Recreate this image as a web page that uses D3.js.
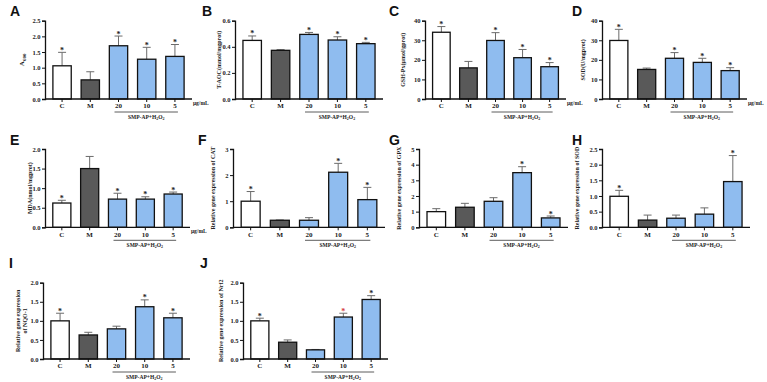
<!DOCTYPE html>
<html>
<head>
<meta charset="utf-8">
<script src="https://cdn.jsdelivr.net/npm/d3@7"></script>
<style>
  body { margin: 0; background: #fff; }
  svg { display: block; }
</style>
</head>
<body>
<svg id="fig" width="767" height="382"></svg>
<script>
// Categories shared by every panel.
const categories = ["C", "M", "20", "10", "5"];

// Bar means, upper error ends and significance marks (1 = black *, 2 = red *).
const meanA = [1.06, 0.61, 1.70, 1.27, 1.36];
const errA = [1.49, 0.87, 2.01, 1.65, 1.74];
const starA = [1, 0, 1, 1, 1];

const meanB = [0.449, 0.373, 0.495, 0.452, 0.424];
const errB = [0.483, 0.378, 0.510, 0.477, 0.434];
const starB = [1, 0, 1, 1, 1];

const meanC = [34.1, 15.9, 29.9, 21.1, 16.5];
const errC = [37.0, 19.2, 33.9, 25.3, 18.6];
const starC = [1, 0, 1, 1, 1];

const meanD = [29.9, 15.1, 20.8, 18.7, 14.5];
const errD = [35.6, 15.8, 23.7, 20.8, 16.0];
const starD = [1, 0, 1, 1, 1];

const meanE = [0.62, 1.50, 0.72, 0.72, 0.85];
const errE = [0.69, 1.81, 0.87, 0.78, 0.90];
const starE = [1, 0, 1, 1, 1];

const meanF = [1.00, 0.27, 0.27, 2.11, 1.06];
const errF = [1.37, 0.28, 0.37, 2.45, 1.53];
const starF = [1, 0, 0, 1, 1];

const meanG = [1.00, 1.28, 1.66, 3.49, 0.60];
const errG = [1.19, 1.53, 1.89, 3.87, 0.72];
const starG = [0, 0, 0, 1, 1];

const meanH = [0.99, 0.23, 0.29, 0.42, 1.46];
const errH = [1.18, 0.39, 0.39, 0.62, 2.29];
const starH = [1, 0, 0, 0, 1];

const meanI = [1.00, 0.63, 0.79, 1.37, 1.08];
const errI = [1.20, 0.70, 0.86, 1.55, 1.20];
const starI = [1, 0, 0, 1, 1];

const meanJ = [1.00, 0.44, 0.24, 1.10, 1.56];
const errJ = [1.07, 0.50, 0.25, 1.20, 1.66];
const starJ = [1, 0, 0, 2, 1];

// Axis ticks per panel.
const ticksA = [0, 0.5, 1.0, 1.5, 2.0, 2.5];
const ticksB = [0, 0.2, 0.4, 0.6];
const ticksC = [0, 10, 20, 30, 40];
const ticksD = [0, 10, 20, 30, 40];
const ticksE = [0, 0.5, 1.0, 1.5, 2.0];
const ticksF = [0, 1, 2, 3];
const ticksG = [0, 1, 2, 3, 4, 5];
const ticksH = [0, 0.5, 1.0, 1.5, 2.0, 2.5];
const ticksI = [0, 0.5, 1.0, 1.5, 2.0];
const ticksJ = [0, 0.5, 1.0, 1.5, 2.0];

// Panel layout (pixel boxes) kept apart from the data.
const rows = [
    { top: 20.7, bottom: 99 },
    { top: 149, bottom: 227.3 },
    { top: 282.7, bottom: 359 },
];

const panels = [
    { id: "A", row: 0, x0: 45, x1: 192, lx: 10, labelDx: 21, mean: meanA, err: errA, star: starA, ticks: ticksA, fmt: ".1f", units: true, ylabel: ["A600"] },
    { id: "B", row: 0, x0: 235, x1: 383, lx: 202, labelDx: 14, mean: meanB, err: errB, star: starB, ticks: ticksB, fmt: ".1f", units: false, ylabel: ["T-AOC(mmol/mgprot)"] },
    { id: "C", row: 0, x0: 425, x1: 566, lx: 389, labelDx: 20, mean: meanC, err: errC, star: starC, ticks: ticksC, fmt: "d", units: true, ylabel: ["GSH-Px(μmol/gprot)"] },
    { id: "D", row: 0, x0: 602, x1: 747, lx: 572, labelDx: 17, mean: meanD, err: errD, star: starD, ticks: ticksD, fmt: "d", units: true, ylabel: ["SOD(U/mgprot)"] },
    { id: "E", row: 1, x0: 45, x1: 190, lx: 10, labelDx: 13, mean: meanE, err: errE, star: starE, ticks: ticksE, fmt: ".1f", units: true, ylabel: ["MDA(nmol/mgprot)"] },
    { id: "F", row: 1, x0: 233, x1: 385, lx: 198, labelDx: 18, mean: meanF, err: errF, star: starF, ticks: ticksF, fmt: "d", units: false, ylabel: ["Relative gene expression of CAT"] },
    { id: "G", row: 1, x0: 419, x1: 568, lx: 389, labelDx: 18, mean: meanG, err: errG, star: starG, ticks: ticksG, fmt: "d", units: false, ylabel: ["Relative gene expression of GPX"] },
    { id: "H", row: 1, x0: 602, x1: 750, lx: 572, labelDx: 23, mean: meanH, err: errH, star: starH, ticks: ticksH, fmt: ".1f", units: false, ylabel: ["Relative gene expression of SOD"] },
    { id: "I", row: 2, x0: 43, x1: 190, lx: 9, labelDx: 22, mean: meanI, err: errI, star: starI, ticks: ticksI, fmt: ".1f", units: false, ylabel: ["Relative gene expression", "of NQO-1"] },
    { id: "J", row: 2, x0: 243, x1: 388, lx: 200, labelDx: 20, mean: meanJ, err: errJ, star: starJ, ticks: ticksJ, fmt: ".1f", units: false, ylabel: ["Relative gene expression of Nrf2"] },
];

const fills = ["#ffffff", "#595959", "#8fbcef", "#8fbcef", "#8fbcef"];
const serif = "'Liberation Serif', 'Times New Roman', serif";
const svg = d3.select("#fig");

panels.forEach((p) => {
    const r = rows[p.row];
    const g = svg.append("g");

    // Scales.
    const x = d3
        .scaleBand()
        .domain(categories)
        .range([p.x0, p.x1])
        .paddingInner(0.35)
        .paddingOuter(0.28);
    const y = d3
        .scaleLinear()
        .domain([0, p.ticks[p.ticks.length - 1]])
        .range([r.bottom, r.top]);

    const rowsData = categories.map((c, i) => ({
        cat: c,
        mean: p.mean[i],
        err: p.err[i],
        star: p.star[i],
        fill: fills[i],
    }));

    // Error bars (upper only), drawn below the bars.
    const eb = g.append("g").attr("stroke", "#6b6b6b").attr("stroke-width", 1);
    rowsData.forEach((d) => {
        const cx = x(d.cat) + x.bandwidth() / 2;
        eb.append("line")
            .attr("x1", cx).attr("x2", cx)
            .attr("y1", y(d.mean)).attr("y2", y(d.err));
        eb.append("line")
            .attr("x1", cx - 4).attr("x2", cx + 4)
            .attr("y1", y(d.err)).attr("y2", y(d.err));
    });

    // Bars.
    g.append("g")
        .selectAll("rect")
        .data(rowsData)
        .join("rect")
        .attr("x", (d) => x(d.cat))
        .attr("y", (d) => y(d.mean))
        .attr("width", x.bandwidth())
        .attr("height", (d) => y(0) - y(d.mean))
        .attr("fill", (d) => d.fill)
        .attr("stroke", "#111")
        .attr("stroke-width", 1.3);

    // Significance stars, sitting just above the error caps.
    g.append("g")
        .selectAll("text")
        .data(rowsData.filter((d) => d.star > 0))
        .join("text")
        .attr("x", (d) => x(d.cat) + x.bandwidth() / 2)
        .attr("y", (d) => y(d.err) + 0.5)
        .attr("text-anchor", "middle")
        .attr("font-family", serif)
        .attr("font-weight", "bold")
        .attr("font-size", 8)
        .attr("fill", (d) => (d.star === 2 ? "#d43a3a" : "#222"))
        .text("*");

    // Y axis.
    const yAxis = g
        .append("g")
        .attr("transform", `translate(${p.x0},0)`)
        .call(
            d3.axisLeft(y)
                .tickValues(p.ticks)
                .tickSize(3)
                .tickFormat(d3.format(p.fmt))
        );
    // X axis.
    const xAxis = g
        .append("g")
        .attr("transform", `translate(0,${r.bottom})`)
        .call(d3.axisBottom(x).tickSize(3).tickSizeOuter(0));

    [yAxis, xAxis].forEach((ax) => {
        ax.select(".domain").attr("stroke", "#111").attr("stroke-width", 1.3);
        ax.selectAll(".tick line").attr("stroke", "#111").attr("stroke-width", 1);
        ax.selectAll(".tick text")
            .attr("font-family", serif)
            .attr("font-weight", "bold")
            .attr("fill", "#222");
    });
    yAxis.selectAll(".tick text").attr("font-size", 6.5).attr("x", -4.5);
    xAxis.selectAll(".tick text").attr("font-size", 7).attr("y", 4.5);
    xAxis.select(".domain").attr("d", `M${p.x0},0H${p.x1}`);

    // Group underline and label.
    const lx0 = x("20") + x.bandwidth() / 2 - 4;
    const lx1 = x("5") + x.bandwidth() / 2 + 3;
    g.append("line")
        .attr("x1", lx0).attr("x2", lx1)
        .attr("y1", r.bottom + 13).attr("y2", r.bottom + 13)
        .attr("stroke", "#333").attr("stroke-width", 0.8);
    const grp = g.append("text")
        .attr("x", (lx0 + lx1) / 2)
        .attr("y", r.bottom + 19.5)
        .attr("text-anchor", "middle")
        .attr("font-family", serif)
        .attr("font-weight", "bold")
        .attr("font-size", 5.5)
        .attr("fill", "#222");
    grp.append("tspan").text("SMP-AP+H");
    grp.append("tspan").attr("font-size", 4).attr("dy", 1.5).text("2");
    grp.append("tspan").attr("dy", -1.5).text("O");
    grp.append("tspan").attr("font-size", 4).attr("dy", 1.5).text("2");

    // Units.
    if (p.units) {
        g.append("text")
            .attr("x", p.x1 + 1)
            .attr("y", r.bottom + 6)
            .attr("font-family", serif)
            .attr("font-weight", "bold")
            .attr("font-size", 5.5)
            .attr("fill", "#222")
            .text("μg/mL");
    }

    // Y label.
    const cy = (r.top + r.bottom) / 2;
    const yl = g.append("text")
        .attr("transform", `translate(${p.x0 - p.labelDx},${cy}) rotate(-90)`)
        .attr("text-anchor", "middle")
        .attr("font-family", serif)
        .attr("font-weight", "bold")
        .attr("font-size", 6)
        .attr("fill", "#222");
    if (p.id === "A") {
        yl.attr("font-size", 7);
        yl.append("tspan").text("A");
        yl.append("tspan").attr("font-size", 5).attr("dy", 1.5).text("600");
    } else if (p.ylabel.length === 2) {
        yl.append("tspan").attr("x", 0).attr("dy", -1.5).text(p.ylabel[0]);
        yl.append("tspan").attr("x", 0).attr("dy", 7).text(p.ylabel[1]);
    } else {
        yl.text(p.ylabel[0]);
    }

    // Panel letter.
    g.append("text")
        .attr("x", p.lx)
        .attr("y", r.top - (p.row === 2 ? 15 : 4.5))
        .attr("font-family", "'Liberation Sans', Arial, sans-serif")
        .attr("font-weight", "bold")
        .attr("font-size", 14)
        .attr("fill", "#111")
        .text(p.id);
});
</script>
</body>
</html>
